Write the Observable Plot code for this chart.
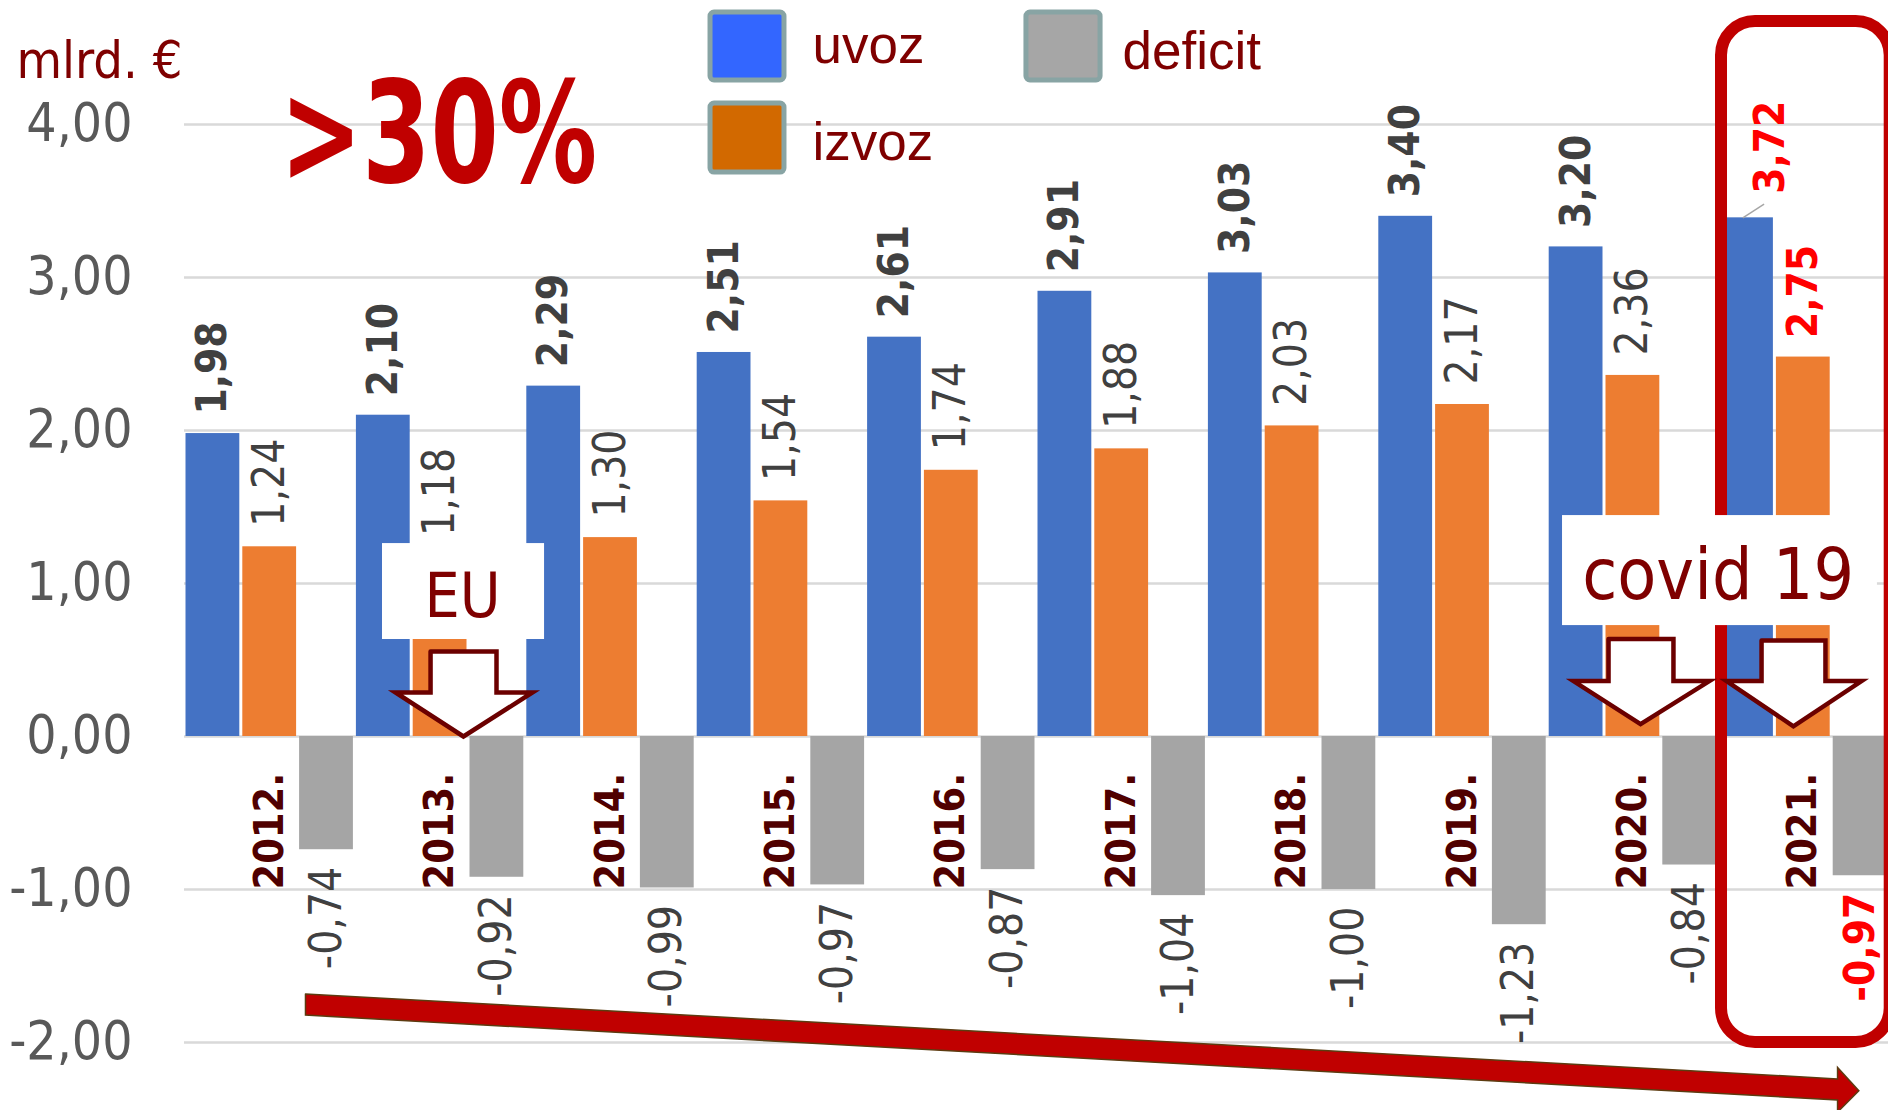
<!DOCTYPE html>
<html><head><meta charset="utf-8">
<script src="https://cdn.jsdelivr.net/npm/d3@7"></script>
<script src="https://cdn.jsdelivr.net/npm/@observablehq/plot@0.6"></script>
<style>
body{margin:0;background:#fff;}
.cond text{font-stretch:condensed;}
</style></head><body><div id="chart"></div>
<script>
// ---- data ----
const years = ["2012.","2013.","2014.","2015.","2016.","2017.","2018.","2019.","2020.","2021."];
const seriesNames = ["uvoz","izvoz","deficit"];
const uvoz    = [1.98, 2.10, 2.29, 2.51, 2.61, 2.91, 3.03, 3.40, 3.20, 3.39];
const izvoz   = [1.24, 1.18, 1.30, 1.54, 1.74, 1.88, 2.03, 2.17, 2.36, 2.48];
const deficit = [-0.74, -0.92, -0.99, -0.97, -0.87, -1.04, -1.00, -1.23, -0.84, -0.91];
const uvozLabels    = ["1,98","2,10","2,29","2,51","2,61","2,91","3,03","3,40","3,20","3,72"];
const izvozLabels   = ["1,24","1,18","1,30","1,54","1,74","1,88","2,03","2,17","2,36","2,75"];
const deficitLabels = ["-0,74","-0,92","-0,99","-0,97","-0,87","-1,04","-1,00","-1,23","-0,84","-0,97"];
const yTicks = [-2, -1, 0, 1, 2, 3, 4];
const yTickLabels = ["-2,00","-1,00","0,00","1,00","2,00","3,00","4,00"];

// ---- styles ----
const COLORS = ["#4472c4", "#ed7d31", "#a5a5a5"];
const LEG_COLORS = ["#3366ff", "#d26900", "#a6a6a6"];
const COND = "'DejaVu Sans Condensed','DejaVu Sans',sans-serif";
const NARROW = "'Liberation Sans Narrow','DejaVu Sans Condensed','DejaVu Sans',sans-serif";
const ARIAL = "'Liberation Sans',Arial,sans-serif";
const DARKRED = "#7f0000";

const values = [uvoz, izvoz, deficit];
const labels = [uvozLabels, izvozLabels, deficitLabels];
const rows = [];
years.forEach((year, i) => {
  seriesNames.forEach((s, k) => {
    rows.push({i, year, series: s, k, value: values[k][i], label: labels[k][i],
      x1: i + k / 3, x2: i + (k + 1) / 3, xc: i + (k + 0.5) / 3});
  });
});
const bySeries = k => rows.filter(d => d.k === k);
const normal = k => bySeries(k).filter(d => d.i < 9);
const last = k => bySeries(k).filter(d => d.i === 9);
const yearRows = years.map((y, i) => ({year: y, x: i + 0.5, y: -1}));

function blockArrow(id, sx1, sx2, top, hy, hx1, hx2, tipx, tipy) {
  return [[sx1, top], [sx2, top], [sx2, hy], [hx2, hy], [tipx, tipy], [hx1, hy], [sx1, hy], [sx1, top]]
    .map(([x, y]) => ({id, x, y}));
}
const downArrows = [
  ...blockArrow("eu", 1.444, 1.831, 0.556, 0.288, 1.238, 2.042, 1.637, 0.0),
  ...blockArrow("c1", 8.357, 8.738, 0.637, 0.362, 8.151, 8.949, 8.545, 0.081),
  ...blockArrow("c2", 9.255, 9.630, 0.627, 0.362, 9.049, 9.842, 9.442, 0.067)
];
const bigArrow = [[0.710, -1.683], [9.701, -2.238], [9.701, -2.163], [9.826, -2.315],
  [9.701, -2.455], [9.701, -2.376], [0.710, -1.821], [0.710, -1.683]].map(([x, y]) => ({x, y}));

const legend = [
  {name: "uvoz", c: LEG_COLORS[0], x1: 3.087, x2: 3.521, y1: 4.288, y2: 4.732, tx: 3.685, ty: 4.399},
  {name: "izvoz", c: LEG_COLORS[1], x1: 3.087, x2: 3.521, y1: 3.686, y2: 4.137, tx: 3.685, ty: 3.771},
  {name: "deficit", c: LEG_COLORS[2], x1: 4.941, x2: 5.376, y1: 4.288, y2: 4.732, tx: 5.505, ty: 4.366}
];

const chart = Plot.plot({
  width: 1888, height: 1110,
  marginLeft: 184, marginRight: 0, marginTop: 0, marginBottom: 0,
  style: {background: "#fff", fontFamily: COND},
  x: {domain: [0, 10], axis: null},
  y: {domain: [-2.4444, 4.8105], axis: null},
  marks: [
    Plot.gridY(yTicks, {stroke: "#d9d9d9", strokeOpacity: 1, strokeWidth: 2.5}),
    Plot.axisY(yTicks, {tickSize: 0, tickPadding: 52, tickFormat: d => yTickLabels[yTicks.indexOf(d)],
      fontSize: 53, fill: "#595959", fontFamily: NARROW, label: null, className: "cond"}),
    ...[0, 1, 2].map(k => Plot.rectY(bySeries(k), {x1: "x1", x2: "x2", y1: 0, y2: "value",
      fill: COLORS[k], insetLeft: 1.5, insetRight: 1.5})),
    // value labels
    Plot.text(normal(0), {x: "xc", y: "value", text: "label", rotate: -90, textAnchor: "start",
      lineAnchor: "middle", dy: -19, fontSize: 42, fontWeight: "bold", fill: "#404040", fontFamily: COND, className: "cond"}),
    Plot.text(normal(1), {x: "xc", y: "value", text: "label", rotate: -90, textAnchor: "start",
      lineAnchor: "middle", dy: -20, fontSize: 44, fill: "#404040", fontFamily: COND, className: "cond"}),
    Plot.text(normal(2), {x: "xc", y: "value", text: "label", rotate: -90, textAnchor: "end",
      lineAnchor: "middle", dy: 17, fontSize: 44, fill: "#404040", fontFamily: COND, className: "cond"}),
    Plot.text(last(0), {x: "xc", y: "value", text: "label", rotate: -90, textAnchor: "start",
      lineAnchor: "middle", dx: 24, dy: -24, fontSize: 42, fontWeight: "bold", fill: "#ff0000", fontFamily: COND, className: "cond"}),
    Plot.text(last(1), {x: "xc", y: "value", text: "label", rotate: -90, textAnchor: "start",
      lineAnchor: "middle", dy: -19, fontSize: 42, fontWeight: "bold", fill: "#ff0000", fontFamily: COND, className: "cond"}),
    Plot.text(last(2), {x: "xc", y: "value", text: "label", rotate: -90, textAnchor: "end",
      lineAnchor: "middle", dy: 17, fontSize: 42, fontWeight: "bold", fill: "#ff0000", fontFamily: COND, className: "cond"}),
    Plot.link([0], {x1: 9.145, y1: 3.39, x2: 9.27, y2: 3.48, stroke: "#a6a6a6", strokeWidth: 1.5}),
    // year labels
    Plot.text(yearRows, {x: "x", y: "y", text: "year", rotate: -90, textAnchor: "start",
      lineAnchor: "middle", fontSize: 41, fontWeight: "bold", fill: "#500000", fontFamily: COND, className: "cond"}),
    // highlight frame
    Plot.rect([0], {x1: 9.02, x2: 10.01, y1: -2.0, y2: 4.673, rx: 34, fill: "none", stroke: "#c00000", strokeWidth: 12}),
    // annotation boxes
    Plot.rect([{x1: 1.162, x2: 2.113, y1: 0.634, y2: 1.261}, {x1: 8.087, x2: 9.935, y1: 0.725, y2: 1.444}],
      {x1: "x1", x2: "x2", y1: "y1", y2: "y2", fill: "#fff"}),
    Plot.text([{t: "EU", x: 1.632, y: 0.784}], {x: "x", y: "y", text: "t", textAnchor: "middle",
      lineAnchor: "bottom", fontSize: 62, fill: DARKRED, fontFamily: COND, className: "cond"}),
    Plot.text([{t: "covid 19", x: 9.0, y: 0.902}], {x: "x", y: "y", text: "t", textAnchor: "middle",
      lineAnchor: "bottom", fontSize: 71, fill: DARKRED, fontFamily: COND, className: "cond"}),
    Plot.line(downArrows, {x: "x", y: "y", z: "id", fill: "#fff", stroke: "#6b0000", strokeWidth: 4.5,
      strokeLinejoin: "miter", strokeMiterlimit: 10, curve: "linear"}),
    Plot.line(bigArrow, {x: "x", y: "y", fill: "#c00000", stroke: "#5c3b10", strokeWidth: 1.5,
      strokeLinejoin: "miter", strokeMiterlimit: 10, curve: "linear"}),
    // legend
    Plot.rect(legend, {x1: "x1", x2: "x2", y1: "y1", y2: "y2", fill: "c", stroke: "#88a4a4", strokeWidth: 5, rx: 4}),
    Plot.text(legend, {x: "tx", y: "ty", text: "name", textAnchor: "start", lineAnchor: "bottom",
      fontSize: 53, fill: DARKRED, fontFamily: ARIAL}),
    // unit and headline
    Plot.text([{t: "mlrd. €", x: -0.986, y: 4.307}], {x: "x", y: "y", text: "t", textAnchor: "start",
      lineAnchor: "bottom", fontSize: 52, fill: DARKRED, fontFamily: COND, className: "cond"}),
    Plot.text([{t: ">30%", x: 1.491, y: 3.627}], {x: "x", y: "y", text: "t", textAnchor: "middle",
      lineAnchor: "bottom", fontSize: 140, fontWeight: "bold", fill: "#c00000", fontFamily: "'DejaVu Sans',sans-serif", className: "big30"})
  ]
});
document.getElementById("chart").appendChild(chart);
d3.select(chart).selectAll(".big30 text").attr("textLength", 317).attr("lengthAdjust", "spacingAndGlyphs");
</script></body></html>
